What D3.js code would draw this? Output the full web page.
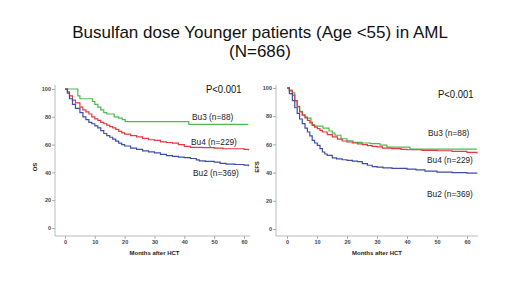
<!DOCTYPE html>
<html>
<head>
<meta charset="utf-8">
<script src="https://cdn.jsdelivr.net/npm/d3@7"></script>
<style>
  body { margin: 0; background: #fff; }
  svg { font-family: "Liberation Sans", Arial, sans-serif; }
</style>
</head>
<body>
<div id="chart"></div>
<script>
/**
 * DATA ([month, percent])
 * */
const titleLines = ["Busulfan dose Younger patients (Age <55) in AML", "(N=686)"];
const pLabel = "P<0.001";
const xTicks = [0, 10, 20, 30, 40, 50, 60];
const yTicks = [0, 20, 40, 60, 80, 100];

// overall survival
const osBu2 = [[0,100],[0.8,97],[1.5,93],[2.5,89],[3.5,86],[5,83],[6,80],[7,78],[8,76],[9,75],[10,73.5],[11,72],[12,70],[13,68],[14,66.5],[15,65.3],[16,64],[17,62.5],[18,61],[19,60],[20,59],[22,57.5],[24,56.5],[26,55.5],[28,54.8],[30,54],[32,53],[34,52],[36,51.5],[38,51],[40,50.6],[42,50],[44,49],[45,48.3],[47,48],[50,47.4],[52,46.5],[54,46],[57,45.7],[60,45.2],[61.5,44.5]];
const osBu4 = [[0,100],[0.8,98],[1.5,95],[2.5,92],[3.5,90],[5,87],[6,85],[7,83.5],[8,82],[9,80],[10,78.5],[11,77.5],[12,76],[13,75],[14,74],[15,73],[16,72],[17,71],[18,69.5],[19,68.5],[20,67.5],[22,66.5],[24,65.5],[26,64.5],[28,63.5],[30,63],[32,62],[34,61.5],[36,61],[38,60],[40,58.7],[42,58],[44,58],[46,57.8],[50,57.5],[53,57],[56,57],[60,56.5],[61.5,56]];
const osBu3 = [[0,100],[4.1,100],[4.3,95],[5,93],[8.7,93],[9.2,91],[10,89],[11,87],[12,85],[13,83],[14,82],[16,82],[16.5,80],[18,79],[19.2,78],[20.2,76.5],[41,76.5],[41.5,74.5],[61.5,74.5]];

// event-free survival
const efsBu2 = [[0,100],[0.8,96],[1.8,91],[2.6,86],[3.4,82],[4.2,78],[5.1,74.7],[6,71.5],[6.8,68.8],[7.6,66],[8.4,62.8],[9.2,61],[10.1,59.3],[11,57],[11.8,54.6],[12.6,53.2],[13.4,52.2],[15.1,50.5],[16.5,49.8],[18.4,49.1],[20,48.6],[21.8,48.2],[23.5,47.8],[25.1,46.3],[26.8,45.2],[28.4,44.3],[30,43.9],[32,43.4],[35,43],[40,42.5],[43,42],[46,41],[50,40.4],[55,40],[60,39.6],[63.3,39.3]];
const efsBu4 = [[0,100],[0.8,98],[1.8,95],[2.6,91],[3.4,86.6],[4.2,83],[5.1,80.7],[6,78.8],[6.8,77.1],[7.6,75.2],[8.4,73.5],[9.2,72.3],[10.1,71.2],[11,70],[11.8,68.8],[13.4,67],[15.1,65.3],[16.8,63.8],[18.4,62.4],[20,61.7],[21.8,61],[23.5,60.4],[25.1,59.8],[26.8,59.2],[28.4,58.6],[30,58.3],[31.8,57.4],[35,57],[38,56.5],[40,56.2],[45,55.8],[50,55.5],[55,55],[60,54.3],[63.3,53.5]];
const efsBu3 = [[0,100],[0.8,98.5],[1.8,96.5],[2.6,91],[3.4,87],[4.2,83.5],[5.1,81],[6,79.5],[6.8,78.6],[8,76],[8.4,74],[9.2,73],[11.5,73],[12,71.5],[13.4,71.5],[14,69.5],[15.1,68],[16,66.5],[18,64],[20,62.5],[22,61.5],[25,61],[27.8,60.5],[31,59.5],[33.3,58],[40.5,58],[41,56.7],[63.3,56.7]];

const panels = [
  { ylabel: "OS", series: [osBu3, osBu4, osBu2],
    labels: [["Bu3 (n=88)", 192, 120], ["Bu4 (n=229)", 191, 145], ["Bu2 (n=369)", 193, 176]],
    p: [206, 93] },
  { ylabel: "EFS", series: [efsBu3, efsBu4, efsBu2],
    labels: [["Bu3 (n=88)", 428, 136], ["Bu4 (n=229)", 427, 163], ["Bu2 (n=369)", 427, 197]],
    p: [438, 98] }
];
const colors = ["#4dba4d", "#e23a3f", "#3d4ea6"];

/**
 * LAYOUT
 * */
const width = 520, height = 292;
const frames = [
  { x0: 65, x60: 244, y0: 228, y100: 89, axisX: 55, axisY: 236, right: 250, top: 85, ylabX: 37 },
  { x0: 287, x60: 467, y0: 229, y100: 88, axisX: 276, axisY: 236, right: 478, top: 85, ylabX: 259 }
];

const svg = d3.select("#chart").append("svg")
  .attr("width", width)
  .attr("height", height);

svg.selectAll(".title")
  .data(titleLines)
  .join("text")
  .attr("class", "title")
  .attr("x", 260)
  .attr("y", (d, i) => 38 + i * 19)
  .attr("text-anchor", "middle")
  .attr("font-size", 17)
  .attr("fill", "#111")
  .text(d => d);

panels.forEach((panel, k) => {
  const f = frames[k];
  const x = d3.scaleLinear().domain([0, 60]).range([f.x0, f.x60]);
  const y = d3.scaleLinear().domain([0, 100]).range([f.y0, f.y100]);
  const g = svg.append("g");

  // axis lines
  g.append("line")
    .attr("x1", f.axisX).attr("x2", f.axisX)
    .attr("y1", f.top).attr("y2", f.axisY)
    .attr("stroke", "#aaa").attr("stroke-width", 0.8);
  g.append("line")
    .attr("x1", f.axisX).attr("x2", f.right)
    .attr("y1", f.axisY).attr("y2", f.axisY)
    .attr("stroke", "#aaa").attr("stroke-width", 0.8);

  const yAxis = g.append("g")
    .attr("transform", `translate(${f.axisX},0)`)
    .call(d3.axisLeft(y).tickValues(yTicks).tickSize(3).tickPadding(1));
  const xAxis = g.append("g")
    .attr("transform", `translate(0,${f.axisY})`)
    .call(d3.axisBottom(x).tickValues(xTicks).tickSize(3).tickPadding(1));
  [xAxis, yAxis].forEach(a => {
    a.select(".domain").remove();
    a.selectAll("line").attr("stroke", "#999").attr("stroke-width", 0.8);
    a.selectAll("text")
      .attr("font-size", 5.5)
      .attr("font-weight", "bold")
      .attr("fill", "#444")
      .attr("font-family", "Liberation Sans, Arial, sans-serif");
  });

  g.append("text")
    .attr("x", (f.x0 + f.x60) / 2)
    .attr("y", 255)
    .attr("text-anchor", "middle")
    .attr("font-size", 6)
    .attr("font-weight", "bold")
    .attr("fill", "#222")
    .text("Months after HCT");

  g.append("text")
    .attr("transform", `translate(${f.ylabX},167) rotate(-90)`)
    .attr("text-anchor", "middle")
    .attr("font-size", 6)
    .attr("font-weight", "bold")
    .attr("fill", "#222")
    .text(panel.ylabel);

  const line = d3.line()
    .x(d => x(d[0]))
    .y(d => y(d[1]))
    .curve(d3.curveStepAfter);

  g.selectAll(".km")
    .data(panel.series)
    .join("path")
    .attr("class", "km")
    .attr("d", line)
    .attr("fill", "none")
    .attr("stroke", (d, i) => colors[i])
    .attr("stroke-width", 1.2);

  g.selectAll(".lab")
    .data(panel.labels)
    .join("text")
    .attr("class", "lab")
    .attr("transform", d => `translate(${d[1]},${d[2]}) scale(1,1.2)`)
    .attr("font-size", 8.3)
    .attr("fill", "#222")
    .text(d => d[0]);

  g.append("text")
    .attr("transform", `translate(${panel.p[0]},${panel.p[1]}) scale(1,1.15)`)
    .attr("font-size", 9.5)
    .attr("fill", "#111")
    .text(pLabel);
});
</script>
</body>
</html>
